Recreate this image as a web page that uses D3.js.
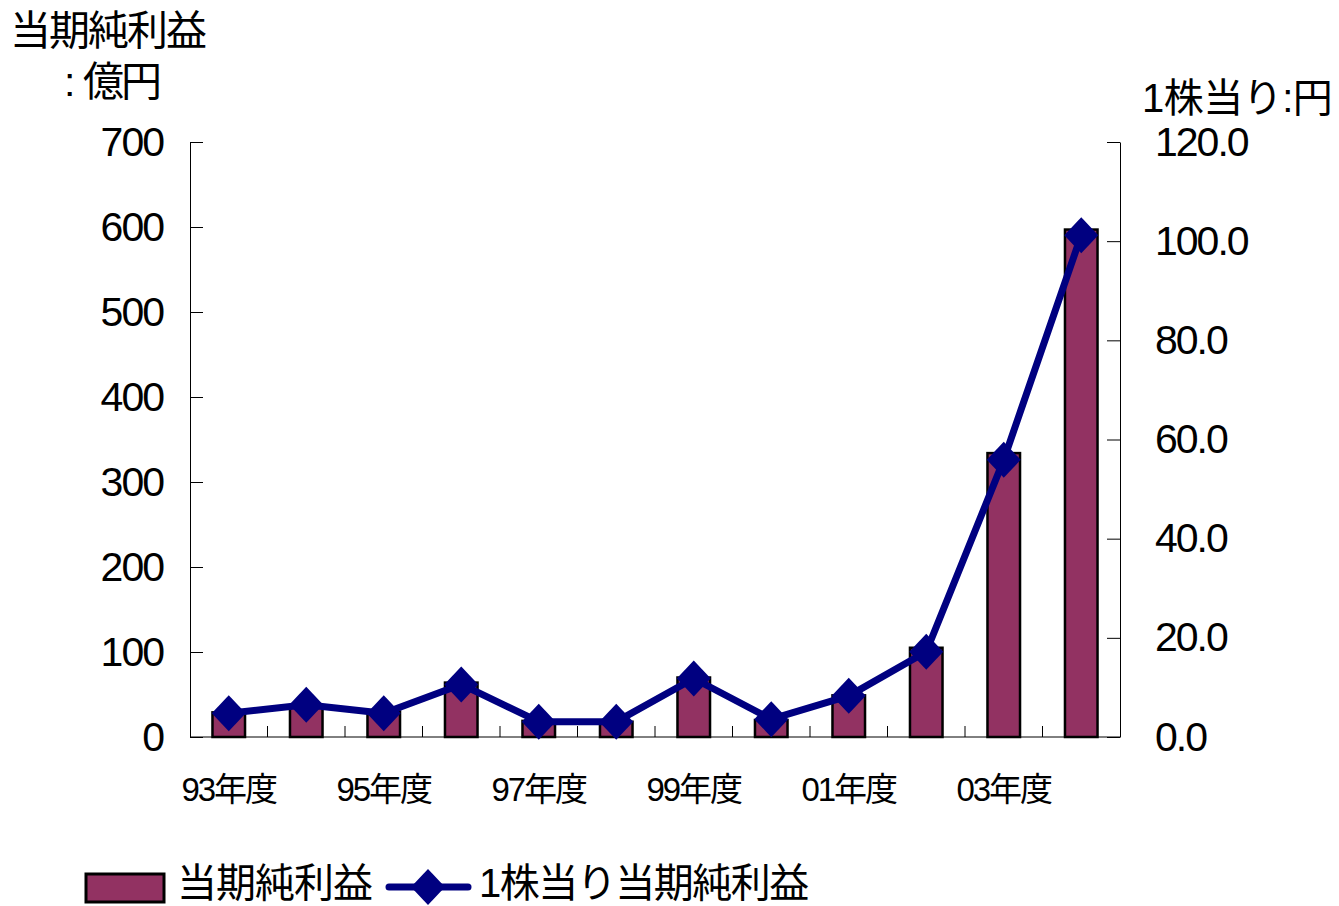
<!DOCTYPE html>
<html>
<head>
<meta charset="utf-8">
<script src="https://cdn.jsdelivr.net/npm/d3@7"></script>
<style>
  html, body { margin: 0; padding: 0; background: #fff; }
  svg { display: block; }
  text { fill: #000; }
</style>
</head>
<body>
<svg id="chart" width="1339" height="906"></svg>
<script>
// ---- data ----
const categories = ["93","94","95","96","97","98","99","00","01","02","03","04"];
const netIncome = [29, 36, 30, 64, 19, 18, 70, 20, 49, 105, 334, 597];        // 億円
const epsValues = [4.8, 6.5, 4.8, 10.6, 3.1, 3.1, 11.8, 3.6, 8.3, 17.2, 55.9, 101.2]; // 円
const leftTicks = [0, 100, 200, 300, 400, 500, 600, 700];
const rightTicks = [0, 20, 40, 60, 80, 100, 120];
const xLabelCats = ["93","95","97","99","01","03"];
const xLabelSuffix = "年度";
const leftTitle1 = "当期純利益";
const leftTitle2a = ":";
const leftTitle2b = "億円";
const rightTitle = "1株当り:円";
const legendBar = "当期純利益";
const legendLine = "1株当り当期純利益";

// ---- layout ----
const L = 190, R = 1120, T = 142, B = 737;
const barColor = "#923262";
const lineColor = "#000080";
const latin = "'Liberation Sans', Arial, 'Noto Sans CJK JP', sans-serif";

const svg = d3.select("#chart");

const x = d3.scaleBand().domain(categories).range([L, R]).padding(0);
const yL = d3.scaleLinear().domain([0, 700]).range([B, T]);
const yR = d3.scaleLinear().domain([0, 120]).range([B, T]);

// bars
const bw = x.bandwidth() * 0.42;
svg.append("g").selectAll("rect").data(categories).join("rect")
  .attr("x", (d) => x(d) + x.bandwidth() / 2 - bw / 2)
  .attr("y", (d, i) => yL(netIncome[i]))
  .attr("width", bw)
  .attr("height", (d, i) => B - yL(netIncome[i]))
  .attr("fill", barColor)
  .attr("stroke", "#000")
  .attr("stroke-width", 2.5);

// left axis
const gL = svg.append("g").attr("transform", `translate(${L},0)`)
  .call(d3.axisLeft(yL).tickValues(leftTicks).tickSize(-13).tickPadding(27).tickSizeOuter(0)
    .tickFormat(d3.format("d")));
gL.select(".domain").attr("stroke", "#000").attr("stroke-width", 1);
gL.selectAll(".tick line").attr("stroke", "#000").attr("stroke-width", 1);
gL.selectAll(".tick text").attr("font-family", latin).attr("font-size", 41)
  .attr("letter-spacing", "-2px").attr("fill", "#000");

// right axis
const gR = svg.append("g").attr("transform", `translate(${R},0)`)
  .call(d3.axisRight(yR).tickValues(rightTicks).tickSize(-13).tickPadding(35).tickSizeOuter(0)
    .tickFormat(d3.format(".1f")));
gR.select(".domain").attr("stroke", "#000").attr("stroke-width", 1);
gR.selectAll(".tick line").attr("stroke", "#000").attr("stroke-width", 1);
gR.selectAll(".tick text").attr("font-family", latin).attr("font-size", 41)
  .attr("letter-spacing", "-2px").attr("fill", "#000");

// bottom axis: baseline + boundary ticks
svg.append("line").attr("x1", L).attr("x2", R).attr("y1", B).attr("y2", B)
  .attr("stroke", "#000").attr("stroke-width", 1);
svg.append("g").selectAll("line").data(categories.slice(1)).join("line")
  .attr("x1", (d) => x(d)).attr("x2", (d) => x(d))
  .attr("y1", B).attr("y2", B - 11)
  .attr("stroke", "#000").attr("stroke-width", 1);

// bottom labels
const gB = svg.append("g").attr("transform", `translate(0,${B})`)
  .call(d3.axisBottom(x).tickValues(xLabelCats).tickSize(0).tickPadding(41)
    .tickFormat((d) => d + xLabelSuffix));
gB.select(".domain").remove();
gB.selectAll(".tick text").attr("font-family", latin).attr("font-size", 33)
  .attr("letter-spacing", "-2px").attr("fill", "#000");

// line series
const cx = (i) => x(categories[i]) + x.bandwidth() / 2;
const line = d3.line().x((d, i) => cx(i)).y((d) => yR(d));
svg.append("path").datum(epsValues).attr("d", line)
  .attr("fill", "none").attr("stroke", lineColor).attr("stroke-width", 7)
  .attr("stroke-linejoin", "round");

const diamond = (hw, hh) => `M0,${-hh}L${hw},0L0,${hh}L${-hw},0Z`;
svg.append("g").selectAll("path").data(epsValues).join("path")
  .attr("transform", (d, i) => `translate(${cx(i)},${yR(d)})`)
  .attr("d", diamond(17, 18))
  .attr("fill", lineColor);

// titles
svg.append("text").attr("x", 10).attr("y", 45)
  .attr("font-family", latin).attr("font-size", 41).attr("letter-spacing", "-2px")
  .text(leftTitle1);
const t2 = svg.append("text").attr("y", 96).attr("font-family", latin).attr("font-size", 41);
t2.append("tspan").attr("x", 64).text(leftTitle2a);
t2.append("tspan").attr("x", 83).attr("letter-spacing", "-3px").text(leftTitle2b);

svg.append("text").attr("x", 1142).attr("y", 112)
  .attr("font-family", latin).attr("font-size", 40).attr("letter-spacing", "-0.5px")
  .text(rightTitle);

// legend
svg.append("rect").attr("x", 86).attr("y", 874).attr("width", 78).attr("height", 28)
  .attr("fill", barColor).attr("stroke", "#000").attr("stroke-width", 3);
svg.append("text").attr("x", 177).attr("y", 897)
  .attr("font-family", latin).attr("font-size", 40).attr("letter-spacing", "-1px")
  .text(legendBar);
svg.append("line").attr("x1", 389).attr("x2", 468).attr("y1", 887).attr("y2", 887)
  .attr("stroke", lineColor).attr("stroke-width", 7).attr("stroke-linecap", "round");
svg.append("path").attr("transform", "translate(428,887)").attr("d", diamond(17, 18))
  .attr("fill", lineColor);
svg.append("text").attr("x", 479).attr("y", 897)
  .attr("font-family", latin).attr("font-size", 40).attr("letter-spacing", "-1.5px")
  .text(legendLine);
</script>
</body>
</html>
